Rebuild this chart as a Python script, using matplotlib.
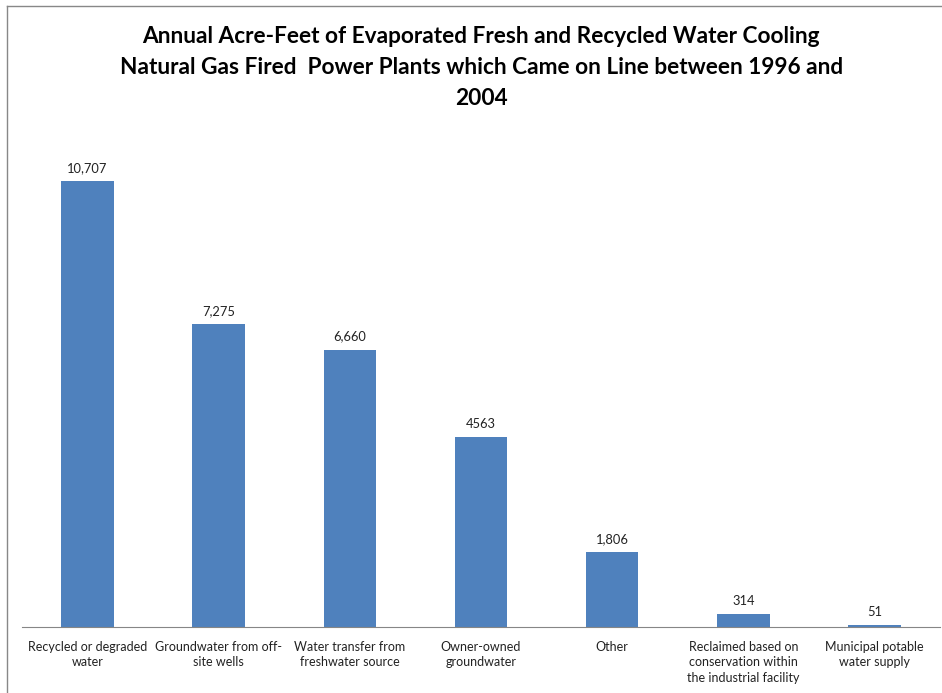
import matplotlib.pyplot as plt
from matplotlib.lines import Line2D

categories = ["Recycled or degraded\nwater", "Groundwater from off-\nsite wells",
              "Water transfer from\nfreshwater source", "Owner-owned\ngroundwater",
              "Other", "Reclaimed based on\nconservation within\nthe industrial facility",
              "Municipal potable\nwater supply"]
values = [10707, 7275, 6660, 4563, 1806, 314, 51]
value_labels = ["10,707", "7,275", "6,660", "4563", "1,806", "314", "51"]

plt.rcParams['font.family'] = ['Lato', 'DejaVu Sans']

fig = plt.figure(figsize=(9.42, 6.93), dpi=100)
ax = fig.add_axes([22 / 942, 66 / 693, 918 / 942, 500 / 693])

x = range(len(categories))
ax.bar(x, values, width=0.4, color="#4F81BD")
for i, v in enumerate(values):
    ax.text(i, v + 170, value_labels[i], ha="center", va="bottom", fontsize=9.3, color="#222222")

ax.set_xlim(-0.5, len(categories) - 0.5)
ax.set_ylim(0, 12000)
ax.set_xticks(list(x))
ax.set_xticklabels(categories, fontsize=9, color="#222222", linespacing=1.35)
ax.tick_params(axis="x", length=0, pad=10)
ax.set_yticks([])
for s in ["top", "right", "left"]:
    ax.spines[s].set_visible(False)
ax.spines["bottom"].set_color("#868686")

fig.text(0.511, 0.963, "Annual Acre-Feet of Evaporated Fresh and Recycled Water Cooling\n"
         "Natural Gas Fired  Power Plants which Came on Line between 1996 and\n2004",
         ha="center", va="top", fontsize=16.3, fontweight="bold", linespacing=1.6)

# outer border (top and left)
fig.add_artist(Line2D([7 / 942, 7 / 942], [0, 1 - 6 / 693], transform=fig.transFigure, color="#888888", lw=1))
fig.add_artist(Line2D([7 / 942, 1], [1 - 6 / 693, 1 - 6 / 693], transform=fig.transFigure, color="#888888", lw=1))

fig.savefig("out.png", dpi=100)
